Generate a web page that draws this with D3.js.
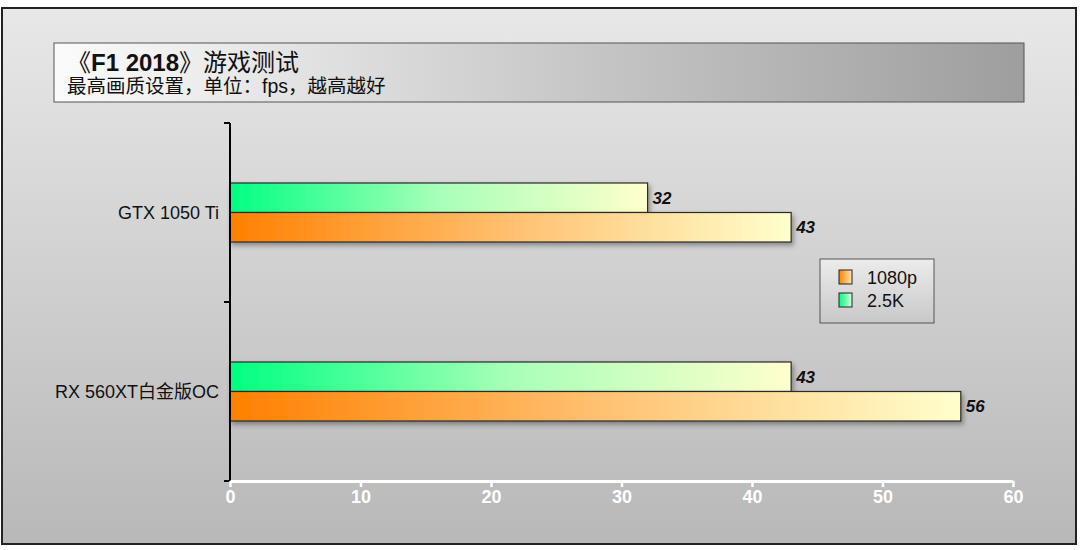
<!DOCTYPE html>
<html>
<head>
<meta charset="utf-8">
<script src="https://cdn.jsdelivr.net/npm/d3@7"></script>
<style>
  body { margin: 0; background: #fff; }
  svg { display: block; }
</style>
</head>
<body>
<svg width="1080" height="550"></svg>
<script>
const categories = ["GTX 1050 Ti", "RX 560XT白金版OC"];
const series = ["2.5K", "1080p"];
const values2k = [32, 43];
const values1080 = [43, 56];
const xTicks = [0, 10, 20, 30, 40, 50, 60];
const legendItems = ["1080p", "2.5K"];

const svg = d3.select("svg");
const defs = svg.append("defs");

// gradients
function linGrad(id, stops, vertical) {
  const gr = defs.append("linearGradient").attr("id", id)
    .attr("x1", 0).attr("y1", 0)
    .attr("x2", vertical ? 0 : 1).attr("y2", vertical ? 1 : 0);
  stops.forEach(s => gr.append("stop").attr("offset", s[0]).attr("stop-color", s[1]));
}
linGrad("bg", [[0, "#e8e8e8"], [1, "#b8b8b8"]], true);
linGrad("titleG", [[0, "#fbfbfb"], [0.55, "#c6c6c6"], [1, "#9e9e9e"]], false);
linGrad("orange", [[0, "#ff8000"], [0.5, "#ffc070"], [1, "#ffffcc"]], false);
linGrad("green", [[0, "#00ff80"], [0.5, "#a8ffb8"], [1, "#ffffcc"]], false);
linGrad("legendG", [[0, "#ececec"], [1, "#c8c8c8"]], true);
linGrad("swO", [[0, "#ff8000"], [1, "#ffe8b0"]], false);
linGrad("swG", [[0, "#00ff80"], [1, "#d8ffd8"]], false);

const shadow = defs.append("filter").attr("id", "shadow")
  .attr("x", "-5%").attr("y", "-30%").attr("width", "110%").attr("height", "180%");
shadow.append("feDropShadow").attr("dx", 2).attr("dy", 3).attr("stdDeviation", 2.5)
  .attr("flood-color", "#000").attr("flood-opacity", 0.35);

// frame
svg.append("rect").attr("x", 2).attr("y", 8).attr("width", 1074).attr("height", 536)
  .attr("fill", "url(#bg)").attr("stroke", "#222").attr("stroke-width", 2);

// title box
svg.append("rect").attr("x", 54).attr("y", 43).attr("width", 970).attr("height", 59)
  .attr("fill", "url(#titleG)").attr("stroke", "#555").attr("stroke-width", 1);
svg.append("text").attr("x", 67).attr("y", 71)
  .attr("font-family", "Liberation Sans, Noto Sans CJK SC, sans-serif")
  .attr("font-size", 24).attr("fill", "#111")
  .call(t => {
    t.append("tspan").text("《");
    t.append("tspan").attr("font-weight", "bold").text("F1 2018");
    t.append("tspan").text("》游戏测试");
  });
svg.append("text").attr("x", 67).attr("y", 93)
  .attr("font-family", "Liberation Sans, Noto Sans CJK SC, sans-serif")
  .attr("font-size", 19.5).attr("fill", "#111")
  .text("最高画质设置，单位：fps，越高越好");

// chart
const x = d3.scaleLinear().domain([0, 60]).range([230, 1013]);
const y = d3.scaleBand().domain(categories).range([123, 481]);
const sub = d3.scaleBand().domain(series).range([0, 59]);
const barOff = (y.bandwidth() - 59) / 2;

const data = categories.map((c, i) => ({ cat: c, vals: [
  { s: "2.5K", v: values2k[i], fill: "url(#green)" },
  { s: "1080p", v: values1080[i], fill: "url(#orange)" }
]}));

const groups = svg.append("g").selectAll("g").data(data).join("g")
  .attr("transform", d => `translate(0,${y(d.cat) + barOff})`);

groups.selectAll("rect").data(d => d.vals).join("rect")
  .attr("x", x(0))
  .attr("y", d => sub(d.s))
  .attr("width", d => x(d.v) - x(0))
  .attr("height", sub.bandwidth())
  .attr("fill", d => d.fill)
  .attr("stroke", "#2a2a2a").attr("stroke-width", 1.2)
  .attr("filter", "url(#shadow)");

groups.selectAll("text").data(d => d.vals).join("text")
  .attr("x", d => x(d.v) + 5)
  .attr("y", d => sub(d.s) + sub.bandwidth() / 2 + 6)
  .attr("font-family", "Liberation Sans, Arial, sans-serif")
  .attr("font-size", 17).attr("font-weight", "bold").attr("font-style", "italic")
  .attr("fill", "#111")
  .text(d => d.v);

// y axis
const yAxis = svg.append("g").attr("transform", `translate(${x(0)},0)`);
yAxis.append("line").attr("x1", 0).attr("x2", 0).attr("y1", 123).attr("y2", 481)
  .attr("stroke", "#000").attr("stroke-width", 2);
[123, y.step() + 123, 481].forEach(v => {
  yAxis.append("line").attr("x1", -6).attr("x2", 0).attr("y1", v).attr("y2", v)
    .attr("stroke", "#000").attr("stroke-width", 2);
});
yAxis.selectAll("text.cat").data(categories).join("text").attr("class", "cat")
  .attr("x", -11)
  .attr("y", d => y(d) + y.bandwidth() / 2 + 6.5)
  .attr("text-anchor", "end")
  .attr("font-family", "Liberation Sans, Noto Sans CJK SC, sans-serif")
  .attr("font-size", 18).attr("fill", "#111")
  .text(d => d);

// x axis
const xAxis = svg.append("g").attr("transform", "translate(0,481)")
  .call(d3.axisBottom(x).tickValues(xTicks).tickSize(6).tickSizeOuter(0));
xAxis.select(".domain").attr("stroke", "#fff").attr("stroke-width", 3);
xAxis.selectAll(".tick line").attr("stroke", "#fff").attr("stroke-width", 2.5);
xAxis.selectAll(".tick text")
  .attr("fill", "#fff").attr("y", 9)
  .attr("font-family", "Liberation Sans Narrow, Arial Narrow, sans-serif")
  .attr("font-size", 18).attr("font-weight", "bold");

// legend
const lg = svg.append("g").attr("transform", "translate(820,259)");
lg.append("rect").attr("width", 114).attr("height", 64)
  .attr("fill", "url(#legendG)").attr("stroke", "#555").attr("stroke-width", 1);
const legendFill = { "1080p": "url(#swO)", "2.5K": "url(#swG)" };
legendItems.forEach((name, i) => {
  lg.append("rect").attr("x", 19).attr("y", 11 + i * 23).attr("width", 13).attr("height", 14)
    .attr("fill", legendFill[name]).attr("stroke", "#222").attr("stroke-width", 1);
  lg.append("text").attr("x", 47).attr("y", 25 + i * 23)
    .attr("font-family", "Liberation Sans, Arial, sans-serif")
    .attr("font-size", 18).attr("fill", "#111")
    .text(name);
});
</script>
</body>
</html>
